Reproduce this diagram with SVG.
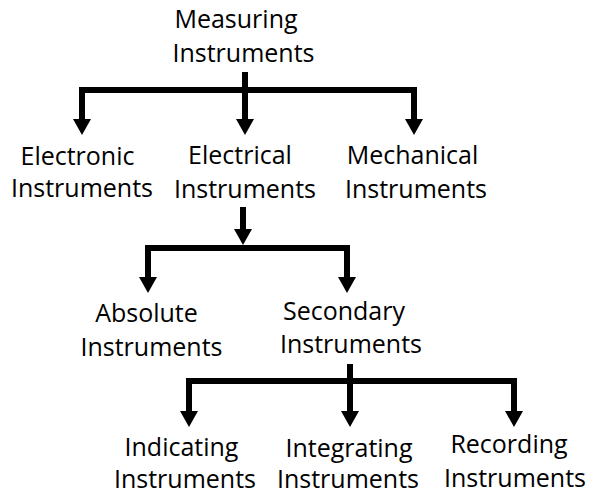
<svg xmlns="http://www.w3.org/2000/svg" width="590" height="495" viewBox="0 0 590 495">
  <style>
    text { font-family: "Open Sans", "Noto Sans", sans-serif; font-size: 25px; fill: #000; text-anchor: middle; }
    .wire { fill: none; stroke: #000; stroke-width: 6; stroke-linejoin: miter; stroke-linecap: butt; }
  </style>
  <defs>
    <!-- solid triangular head; the line stops 10px short of the tip -->
    <marker id="head" markerUnits="userSpaceOnUse" markerWidth="18" markerHeight="20" viewBox="0 -10 18 20" refX="6" refY="0" orient="auto-start-reverse">
      <path d="M0,-9 L16,0 L0,9 z" fill="#000"/>
    </marker>
  </defs>
  <rect width="590" height="495" fill="#fff"/>

  <g id="connectors">
    <!-- level 1 -->
    <path class="wire" d="M245,72 V125" marker-end="url(#head)"/>
    <path class="wire" d="M82,125 V90 H414 V125" marker-start="url(#head)" marker-end="url(#head)"/>
    <!-- level 2 -->
    <path class="wire" d="M243,207 V235" marker-end="url(#head)"/>
    <path class="wire" d="M148,283 V248 H347 V283" marker-start="url(#head)" marker-end="url(#head)"/>
    <!-- level 3 -->
    <path class="wire" d="M350,364 V417" marker-end="url(#head)"/>
    <path class="wire" d="M189,417 V381 H514 V417" marker-start="url(#head)" marker-end="url(#head)"/>
  </g>

  <g id="measuring">
    <text x="236" y="28">Measuring</text>
    <text x="243.5" y="61.5">Instruments</text>
  </g>
  <g id="electronic">
    <text x="77.5" y="165">Electronic</text>
    <text x="82" y="197">Instruments</text>
  </g>
  <g id="electrical">
    <text x="240" y="164">Electrical</text>
    <text x="245" y="198">Instruments</text>
  </g>
  <g id="mechanical">
    <text x="412.5" y="164">Mechanical</text>
    <text x="416" y="198">Instruments</text>
  </g>
  <g id="absolute">
    <text x="146.5" y="322">Absolute</text>
    <text x="151.5" y="356">Instruments</text>
  </g>
  <g id="secondary">
    <text x="344" y="320">Secondary</text>
    <text x="351" y="353">Instruments</text>
  </g>
  <g id="indicating">
    <text x="181.5" y="456">Indicating</text>
    <text x="185" y="488">Instruments</text>
  </g>
  <g id="integrating">
    <text x="349" y="457">Integrating</text>
    <text x="348" y="488">Instruments</text>
  </g>
  <g id="recording">
    <text x="509" y="453">Recording</text>
    <text x="515" y="487">Instruments</text>
  </g>
</svg>
